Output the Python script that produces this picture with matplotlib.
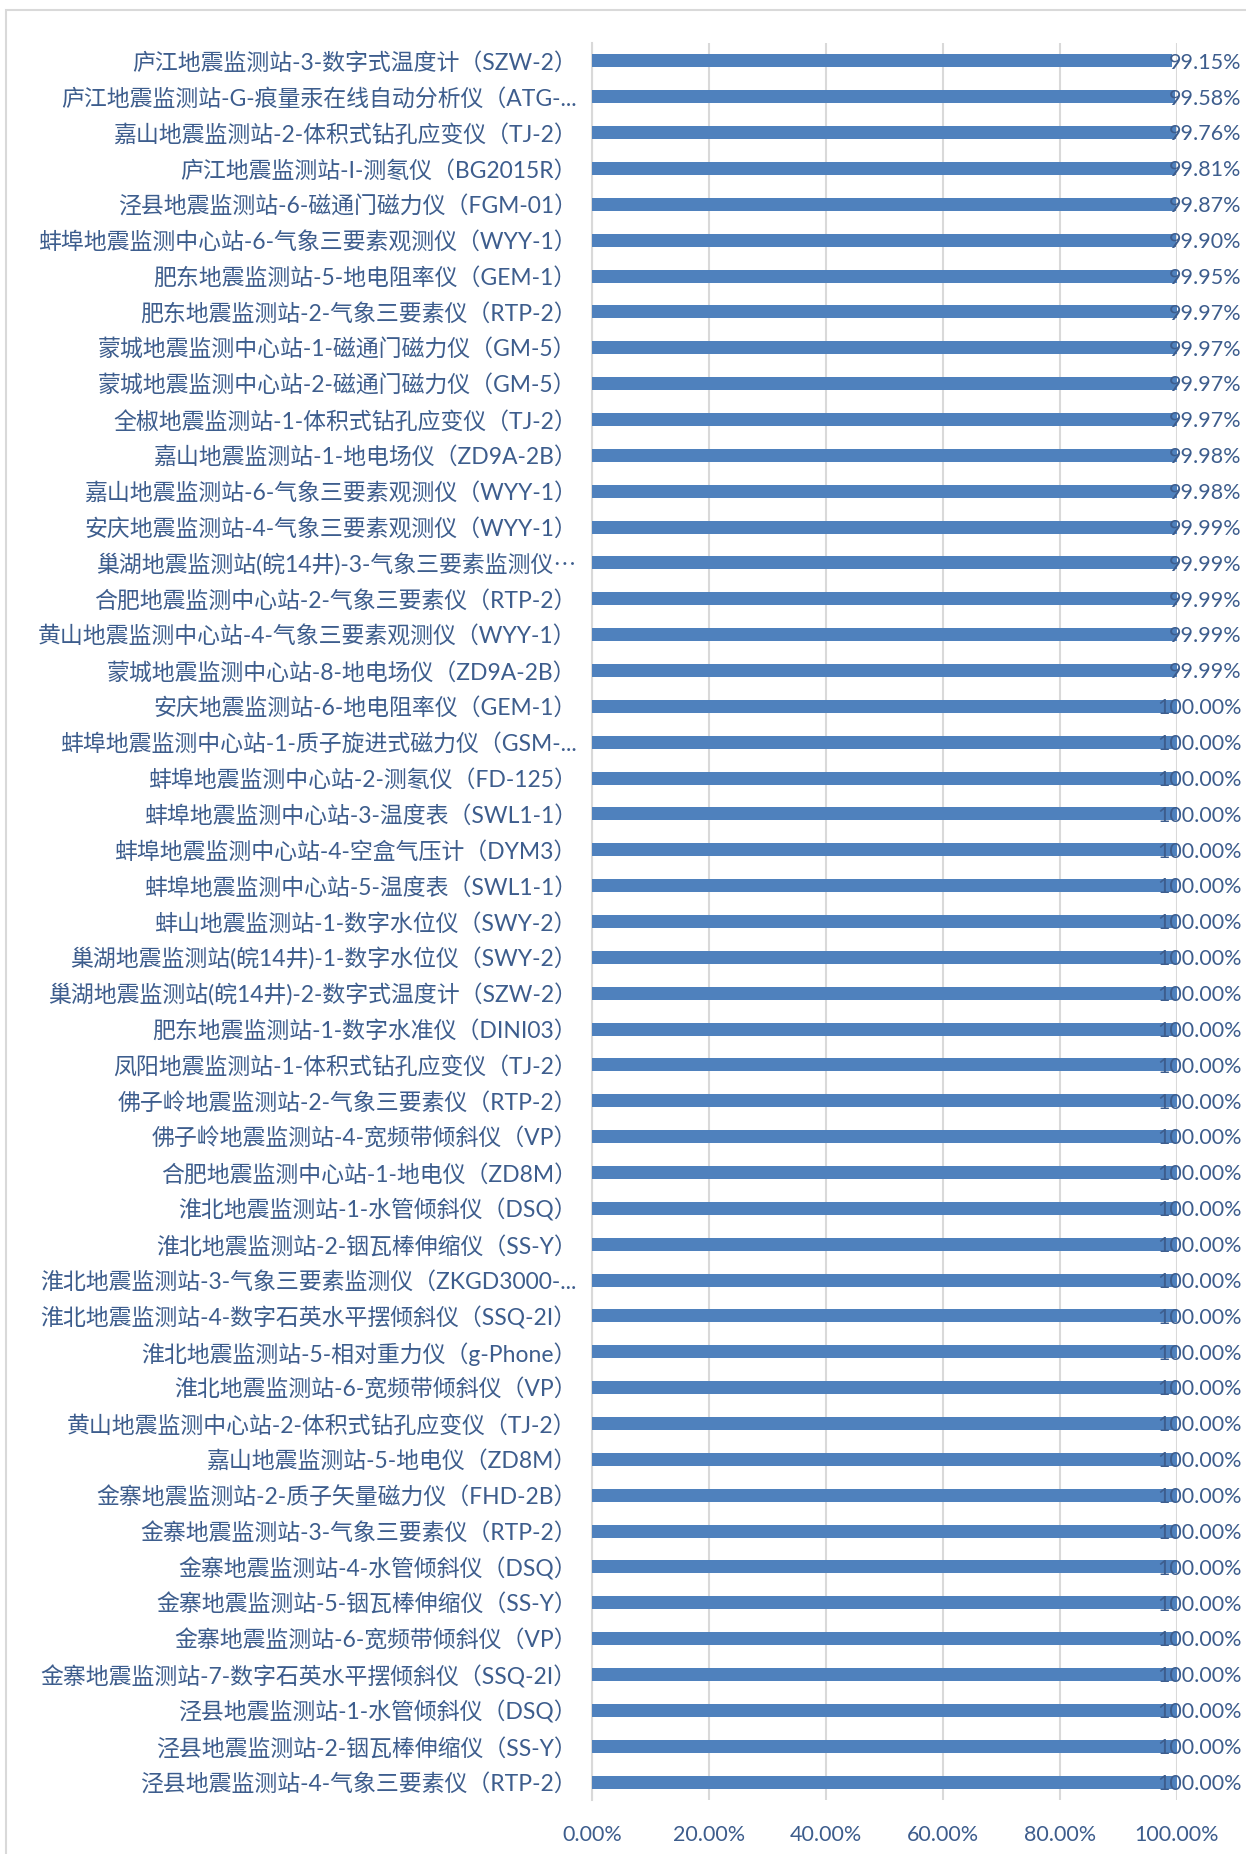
import numpy as np
import matplotlib
matplotlib.use('Agg')
import matplotlib.pyplot as plt
import matplotlib.transforms as mtransforms
from matplotlib.ticker import FuncFormatter

plt.rcParams['font.family'] = ['Lato', 'Noto Sans CJK SC', 'DejaVu Sans']

# station / instrument labels, top to bottom as in the chart
labels = [
    '庐江地震监测站-3-数字式温度计（SZW-2）',
    '庐江地震监测站-G-痕量汞在线自动分析仪（ATG-...',
    '嘉山地震监测站-2-体积式钻孔应变仪（TJ-2）',
    '庐江地震监测站-I-测氡仪（BG2015R）',
    '泾县地震监测站-6-磁通门磁力仪（FGM-01）',
    '蚌埠地震监测中心站-6-气象三要素观测仪（WYY-1）',
    '肥东地震监测站-5-地电阻率仪（GEM-1）',
    '肥东地震监测站-2-气象三要素仪（RTP-2）',
    '蒙城地震监测中心站-1-磁通门磁力仪（GM-5）',
    '蒙城地震监测中心站-2-磁通门磁力仪（GM-5）',
    '全椒地震监测站-1-体积式钻孔应变仪（TJ-2）',
    '嘉山地震监测站-1-地电场仪（ZD9A-2B）',
    '嘉山地震监测站-6-气象三要素观测仪（WYY-1）',
    '安庆地震监测站-4-气象三要素观测仪（WYY-1）',
    '巢湖地震监测站(皖14井)-3-气象三要素监测仪⋯',
    '合肥地震监测中心站-2-气象三要素仪（RTP-2）',
    '黄山地震监测中心站-4-气象三要素观测仪（WYY-1）',
    '蒙城地震监测中心站-8-地电场仪（ZD9A-2B）',
    '安庆地震监测站-6-地电阻率仪（GEM-1）',
    '蚌埠地震监测中心站-1-质子旋进式磁力仪（GSM-...',
    '蚌埠地震监测中心站-2-测氡仪（FD-125）',
    '蚌埠地震监测中心站-3-温度表（SWL1-1）',
    '蚌埠地震监测中心站-4-空盒气压计（DYM3）',
    '蚌埠地震监测中心站-5-温度表（SWL1-1）',
    '蚌山地震监测站-1-数字水位仪（SWY-2）',
    '巢湖地震监测站(皖14井)-1-数字水位仪（SWY-2）',
    '巢湖地震监测站(皖14井)-2-数字式温度计（SZW-2）',
    '肥东地震监测站-1-数字水准仪（DINI03）',
    '凤阳地震监测站-1-体积式钻孔应变仪（TJ-2）',
    '佛子岭地震监测站-2-气象三要素仪（RTP-2）',
    '佛子岭地震监测站-4-宽频带倾斜仪（VP）',
    '合肥地震监测中心站-1-地电仪（ZD8M）',
    '淮北地震监测站-1-水管倾斜仪（DSQ）',
    '淮北地震监测站-2-铟瓦棒伸缩仪（SS-Y）',
    '淮北地震监测站-3-气象三要素监测仪（ZKGD3000-...',
    '淮北地震监测站-4-数字石英水平摆倾斜仪（SSQ-2I）',
    '淮北地震监测站-5-相对重力仪（g-Phone）',
    '淮北地震监测站-6-宽频带倾斜仪（VP）',
    '黄山地震监测中心站-2-体积式钻孔应变仪（TJ-2）',
    '嘉山地震监测站-5-地电仪（ZD8M）',
    '金寨地震监测站-2-质子矢量磁力仪（FHD-2B）',
    '金寨地震监测站-3-气象三要素仪（RTP-2）',
    '金寨地震监测站-4-水管倾斜仪（DSQ）',
    '金寨地震监测站-5-铟瓦棒伸缩仪（SS-Y）',
    '金寨地震监测站-6-宽频带倾斜仪（VP）',
    '金寨地震监测站-7-数字石英水平摆倾斜仪（SSQ-2I）',
    '泾县地震监测站-1-水管倾斜仪（DSQ）',
    '泾县地震监测站-2-铟瓦棒伸缩仪（SS-Y）',
    '泾县地震监测站-4-气象三要素仪（RTP-2）',
]

# completeness rate (%)
rates = [99.15, 99.58, 99.76, 99.81, 99.87, 99.90, 99.95, 99.97, 99.97, 99.97,
         99.97, 99.98, 99.98, 99.99, 99.99, 99.99, 99.99, 99.99] + [100.00] * 31

x_ticks = [0, 20, 40, 60, 80, 100]

bar_color = '#4F81BD'
text_color = '#3D5D8D'
grid_color = '#D9D9D9'

W, H = 1246, 1854
fig = plt.figure(figsize=(W / 100, H / 100), dpi=100)

# chart area border (light gray, runs off right/bottom edge)
border = plt.Rectangle((6 / W, -0.01), 1.2, 1 - 10 / H + 0.01, transform=fig.transFigure,
                       fill=False, edgecolor='#D9D9D9', linewidth=1.5)
fig.patches.append(border)

ax = fig.add_axes([592 / W, 1 - 1800 / H, (1177 - 592) / W, (1800 - 43) / H])

y = np.arange(len(labels))
ax.barh(y, rates, height=0.36, color=bar_color, zorder=3)

ax.set_xlim(0, 100)
ax.set_ylim(len(labels) - 0.5, -0.5)
ax.set_xticks(x_ticks)
ax.xaxis.set_major_formatter(FuncFormatter(lambda v, p: '%.2f%%' % v))
ax.set_yticks(y)
ax.set_yticklabels(labels)

ax.tick_params(axis='y', length=0, pad=11, labelsize=16.5, labelcolor=text_color)
ax.tick_params(axis='x', length=0, pad=18, labelsize=15.5, labelcolor=text_color)

ax.grid(axis='x', color=grid_color, linewidth=1.5, zorder=0)
for s in ['top', 'right', 'bottom']:
    ax.spines[s].set_visible(False)
ax.spines['left'].set_color(grid_color)
ax.spines['left'].set_linewidth(1.5)

# value labels, right aligned near the right edge
trans = mtransforms.blended_transform_factory(ax.transAxes, ax.transData)
for yi, v in zip(y, rates):
    ax.text(1.11, yi + 0.05, '%.2f%%' % v, transform=trans, ha='right', va='center',
            fontsize=15.5, color=text_color, zorder=5)

fig.savefig('out.png', dpi=100)
